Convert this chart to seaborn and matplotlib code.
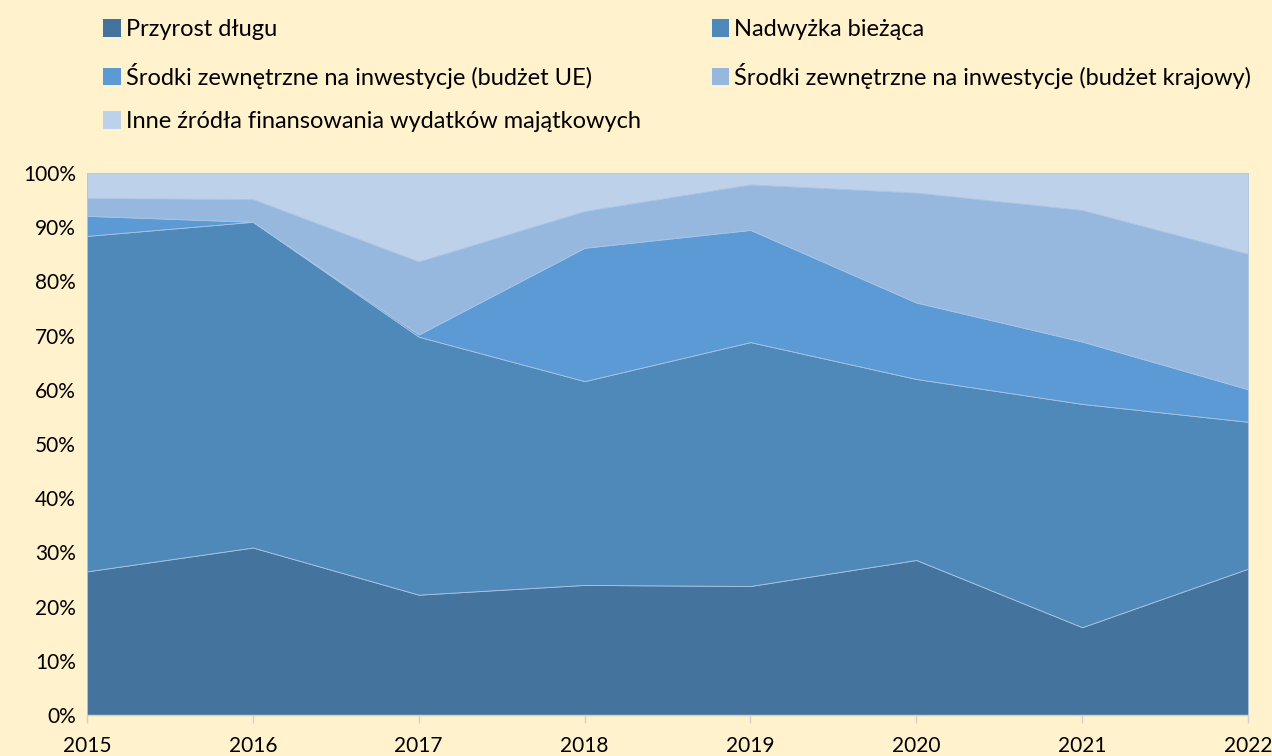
import matplotlib
matplotlib.use("Agg")
import matplotlib.pyplot as plt
import seaborn as sns
from matplotlib.patches import Patch
from matplotlib.ticker import PercentFormatter

years = [2015, 2016, 2017, 2018, 2019, 2020, 2021, 2022]
series_names = [
    "Przyrost długu",
    "Nadwyżka bieżąca",
    "Środki zewnętrzne na inwestycje (budżet UE)",
    "Środki zewnętrzne na inwestycje (budżet krajowy)",
    "Inne źródła finansowania wydatków majątkowych",
]
przyrost_dlugu = [26.5, 30.9, 22.2, 24.0, 23.8, 28.6, 16.2, 27.0]
nadwyzka_biezaca = [61.9, 60.1, 47.6, 37.6, 45.0, 33.4, 41.2, 27.1]
ue = [3.7, 0.0, 0.4, 24.6, 20.7, 14.1, 11.5, 6.0]
krajowy = [3.3, 4.2, 13.5, 6.8, 8.4, 20.3, 24.3, 25.0]
inne = [4.6, 4.8, 16.3, 7.0, 2.1, 3.6, 6.8, 14.9]

colors = ["#44739E", "#4F89BA", "#5B9AD5", "#97B8DE", "#BED1EA"]
bg = "#FFF2CC"

sns.set_theme(style="white", rc={"figure.facecolor": bg, "axes.facecolor": bg,
                                 "text.color": "black"})
plt.rcParams["font.family"] = ["Lato", "DejaVu Sans"]

fig = plt.figure(figsize=(12.72, 7.56), dpi=100)
ax = fig.add_axes([87 / 1272, 1 - 715 / 756, (1248 - 87) / 1272, (715 - 173) / 756])

ax.stackplot(
    years,
    przyrost_dlugu, nadwyzka_biezaca, ue, krajowy, inne,
    colors=colors,
    edgecolor="#A9C4E4",
    linewidth=0.6,
)

ax.set_xlim(years[0], years[-1])
ax.set_ylim(0, 100)
ax.set_yticks(range(0, 101, 10))
ax.yaxis.set_major_formatter(PercentFormatter(decimals=0))
ax.set_xticks(years)
ax.tick_params(axis="y", length=0, labelsize=15, pad=8, labelcolor="black")
ax.tick_params(axis="x", length=6, width=1, color="#D0D0D0", labelsize=15, pad=9,
               labelcolor="black", bottom=True, direction="out")
sns.despine(ax=ax, left=True, top=True, right=True)
ax.spines["bottom"].set_color("#D0D0D0")
ax.spines["bottom"].set_linewidth(1)

handles = [Patch(facecolor=c, edgecolor="none") for c in colors]
order = [0, 2, 4, 1, 3]
fig.legend(
    [handles[i] for i in order],
    [series_names[i] for i in order],
    loc="upper left",
    bbox_to_anchor=(82 / 1272, 1 + 2 / 756),
    ncol=2,
    frameon=False,
    fontsize=17,
    labelcolor="black",
    handlelength=0.75,
    handleheight=0.75,
    handletextpad=0.2,
    labelspacing=0.95,
    columnspacing=3.0,
)

fig.savefig("out.png", dpi=100, facecolor=bg)
